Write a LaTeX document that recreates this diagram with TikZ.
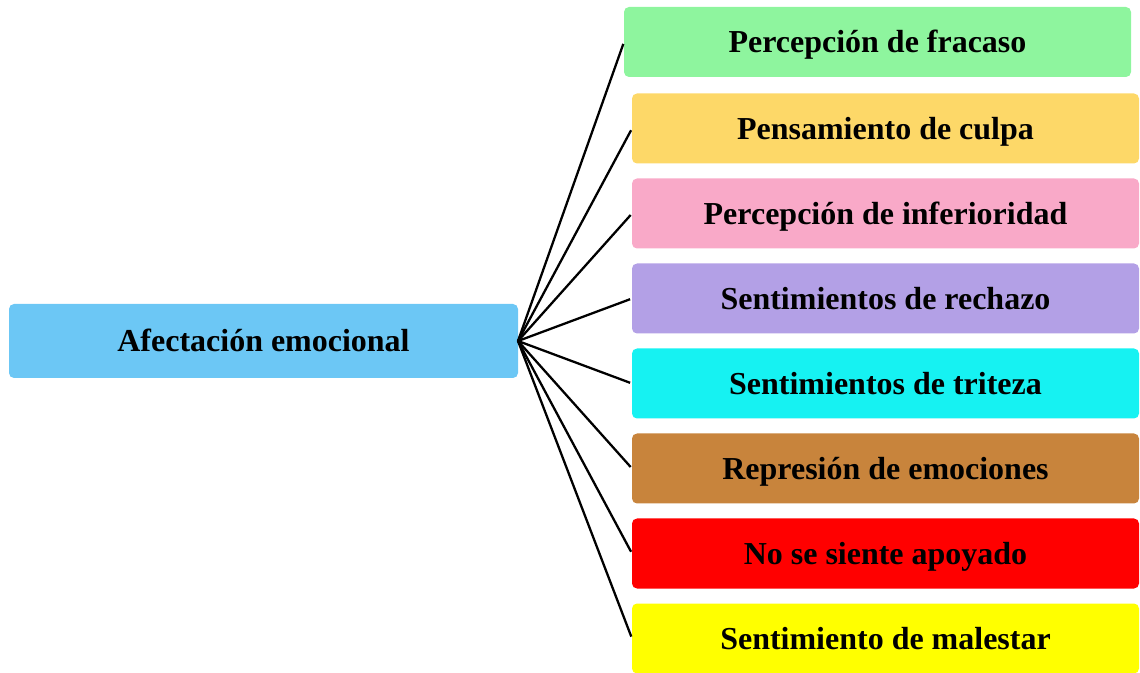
\documentclass[tikz,border=0pt]{standalone}
\usepackage{fontspec}
\setmainfont{Liberation Serif}
\usetikzlibrary{positioning}

\definecolor{cafect}{RGB}{108,199,245}
\definecolor{cfracaso}{RGB}{142,245,158}
\definecolor{cculpa}{RGB}{253,216,104}
\definecolor{cinfer}{RGB}{249,169,200}
\definecolor{crechazo}{RGB}{179,160,230}
\definecolor{ctriteza}{RGB}{22,242,242}
\definecolor{crepres}{RGB}{200,132,60}
\definecolor{capoyo}{RGB}{255,0,0}
\definecolor{cmalestar}{RGB}{255,255,0}

\begin{document}
\begin{tikzpicture}[-,line width=1.3pt,shorten >=0.04cm,node distance=0.3cm,
    caja/.style={rounded corners=0.1cm,minimum width=10.14cm,minimum height=1.4cm,
      inner sep=0pt,outer sep=0pt,text height=12pt,text depth=0pt,
      font=\fontsize{18.2}{20}\selectfont\bfseries}]
  \useasboundingbox (0,0) rectangle (22.8,-13.46);
  \node[caja, fill=cafect, minimum width=10.18cm, minimum height=1.48cm] (afect) at (5.27,-6.82) {Afectación emocional};
  \node[caja, fill=cfracaso] (fracaso) at (17.55,-0.84) {Percepción de fracaso};
  \node[caja, fill=cculpa] (culpa) [below=0.33cm of fracaso, xshift=0.16cm] {Pensamiento de culpa};
  \node[caja, fill=cinfer] (infer) [below=of culpa] {Percepción de inferioridad};
  \node[caja, fill=crechazo] (rechazo) [below=of infer] {Sentimientos de rechazo};
  \node[caja, fill=ctriteza] (triteza) [below=of rechazo] {Sentimientos de triteza};
  \node[caja, fill=crepres] (repres) [below=of triteza] {Represión de emociones};
  \node[caja, fill=capoyo] (apoyo) [below=of repres] {No se siente apoyado};
  \node[caja, fill=cmalestar] (malestar) [below=of apoyo] {Sentimiento de malestar};
  \path (afect.east) edge (fracaso.west)
  edge (culpa.west)
  edge (infer.west)
  edge (rechazo.west)
  edge (triteza.west)
  edge (repres.west)
  edge (apoyo.west)
  edge (malestar.west);
\end{tikzpicture}
\end{document}
